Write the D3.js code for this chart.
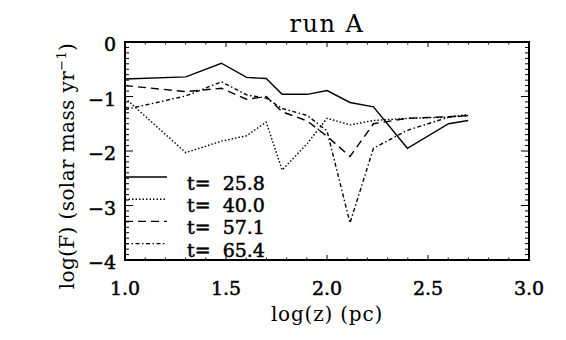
<!DOCTYPE html>
<html>
<head>
<meta charset="utf-8">
<script src="https://cdn.jsdelivr.net/npm/d3@7.9.0/dist/d3.min.js"></script>
<style>
  body { margin: 0; background: #fff; }
  text { font-family: "DejaVu Serif", serif; fill: #000; }
  .heavy { stroke: #000; stroke-width: 0.5px; }
</style>
</head>
<body>
<div id="chart"></div>
<script>
// log10 of height z (pc): 10, 20, 30, 40, 50, 60, 80, 100, 130, 170, 250, 400, 500
const logZ = [1.0, 1.301, 1.477, 1.602, 1.699, 1.778, 1.903, 2.0, 2.114, 2.230, 2.398, 2.602, 2.699];

const fluxT258 = [-0.68, -0.64, -0.39, -0.65, -0.67, -0.96, -0.96, -0.89, -1.11, -1.19, -1.95, -1.50, -1.44];
const fluxT400 = [-1.03, -2.03, -1.82, -1.72, -1.47, -2.35, -1.86, -1.40, -1.52, -1.44, -1.40, -1.38, -1.33];
const fluxT571 = [-0.80, -0.91, -0.85, -1.05, -1.00, -1.28, -1.45, -1.73, -2.10, -1.50, -1.40, -1.37, -1.35];
const fluxT654 = [-1.24, -0.99, -0.73, -0.97, -1.03, -1.22, -1.35, -1.63, -3.32, -1.95, -1.62, -1.38, -1.35];

const seriesLabels = ['t=  25.8', 't=  40.0', 't=  57.1', 't=  65.4'];
const xTicks = [1.0, 1.5, 2.0, 2.5, 3.0];
const yTicks = [0, -1, -2, -3, -4];

const width = 566;
const height = 340;
const margin = { top: 42, right: 37, bottom: 80, left: 125 };

const series = [
  { label: seriesLabels[0], values: fluxT258, dash: null },
  { label: seriesLabels[1], values: fluxT400, dash: '1.5,2' },
  { label: seriesLabels[2], values: fluxT571, dash: '8,5' },
  { label: seriesLabels[3], values: fluxT654, dash: '4,2.5,1.5,2.5' }
];

const svg = d3.select('#chart')
  .append('svg')
  .attr('width', width)
  .attr('height', height);

const x = d3.scaleLinear()
  .domain([1.0, 3.0])
  .range([margin.left, width - margin.right]);

const y = d3.scaleLinear()
  .domain([-4, 0])
  .range([height - margin.bottom, margin.top]);

const x0 = margin.left, x1 = width - margin.right;
const y0 = height - margin.bottom, y1 = margin.top;

// IDL-style ticks on all four sides
const xMinor = d3.range(10, 31).map(d => d / 10);
const yMinor = d3.range(-40, 1).map(d => d / 10);
const isMajorX = v => xTicks.some(t => Math.abs(t - v) < 1e-6);
const isMajorY = v => yTicks.some(t => Math.abs(t - v) < 1e-6);

const ticks = svg.append('g').attr('stroke', '#000').attr('stroke-width', 1);
xMinor.forEach(v => {
  const len = isMajorX(v) ? 5 : 2.5;
  ticks.append('line').attr('x1', x(v)).attr('x2', x(v)).attr('y1', y0).attr('y2', y0 - len);
  ticks.append('line').attr('x1', x(v)).attr('x2', x(v)).attr('y1', y1).attr('y2', y1 + len);
});
yMinor.forEach(v => {
  const len = isMajorY(v) ? 8 : 4;
  ticks.append('line').attr('y1', y(v)).attr('y2', y(v)).attr('x1', x0).attr('x2', x0 + len);
  ticks.append('line').attr('y1', y(v)).attr('y2', y(v)).attr('x1', x1).attr('x2', x1 - len);
});

svg.append('rect')
  .attr('x', x0).attr('y', y1)
  .attr('width', x1 - x0).attr('height', y0 - y1)
  .attr('fill', 'none')
  .attr('stroke', '#000')
  .attr('stroke-width', 2);

svg.append('g').selectAll('text')
  .data(xTicks)
  .join('text')
  .attr('class', 'heavy')
  .attr('x', d => x(d))
  .attr('y', y0 + 35)
  .attr('text-anchor', 'middle')
  .attr('font-size', 19)
  .text(d => d.toFixed(1));

svg.append('g').selectAll('text')
  .data(yTicks)
  .join('text')
  .attr('class', 'heavy')
  .attr('x', x0 - 9)
  .attr('y', d => y(d) + 9)
  .attr('text-anchor', 'end')
  .attr('font-size', 19)
  .text(d => d === 0 ? '0' : '\u2212' + Math.abs(d));

const line = d3.line()
  .x((d, i) => x(logZ[i]))
  .y(d => y(d));

svg.append('g').selectAll('path')
  .data(series)
  .join('path')
  .attr('fill', 'none')
  .attr('stroke', '#000')
  .attr('stroke-width', 1.4)
  .attr('stroke-dasharray', d => d.dash)
  .attr('d', d => line(d.values));

// legend
const legend = svg.append('g');
series.forEach((s, i) => {
  const ly = 177 + i * 22.2;
  legend.append('line')
    .attr('x1', x0).attr('x2', x0 + 42)
    .attr('y1', ly).attr('y2', ly)
    .attr('stroke', '#000')
    .attr('stroke-width', 1.4)
    .attr('stroke-dasharray', s.dash);
  legend.append('text')
    .attr('class', 'heavy')
    .attr('x', 187)
    .attr('y', ly + 13)
    .attr('font-size', 19)
    .style('white-space', 'pre')
    .text(s.label);
});

svg.append('text')
  .attr('x', (x0 + x1) / 2)
  .attr('y', 32)
  .attr('text-anchor', 'middle')
  .attr('font-size', 24)
  .attr('letter-spacing', 1.5)
  .text('run A');

svg.append('text')
  .attr('x', (x0 + x1) / 2)
  .attr('y', 321)
  .attr('text-anchor', 'middle')
  .attr('font-size', 20)
  .attr('letter-spacing', 0.8)
  .text('log(z) (pc)');

const yLabel = svg.append('text')
  .attr('transform', 'translate(74,166) rotate(-90)')
  .attr('text-anchor', 'middle')
  .attr('font-size', 20)
  .attr('letter-spacing', 0.4);
yLabel.append('tspan').text('log(F) (solar mass yr');
yLabel.append('tspan').attr('dy', -8).attr('font-size', 13).text('\u22121');
yLabel.append('tspan').attr('dy', 8).text(')');
</script>
</body>
</html>
